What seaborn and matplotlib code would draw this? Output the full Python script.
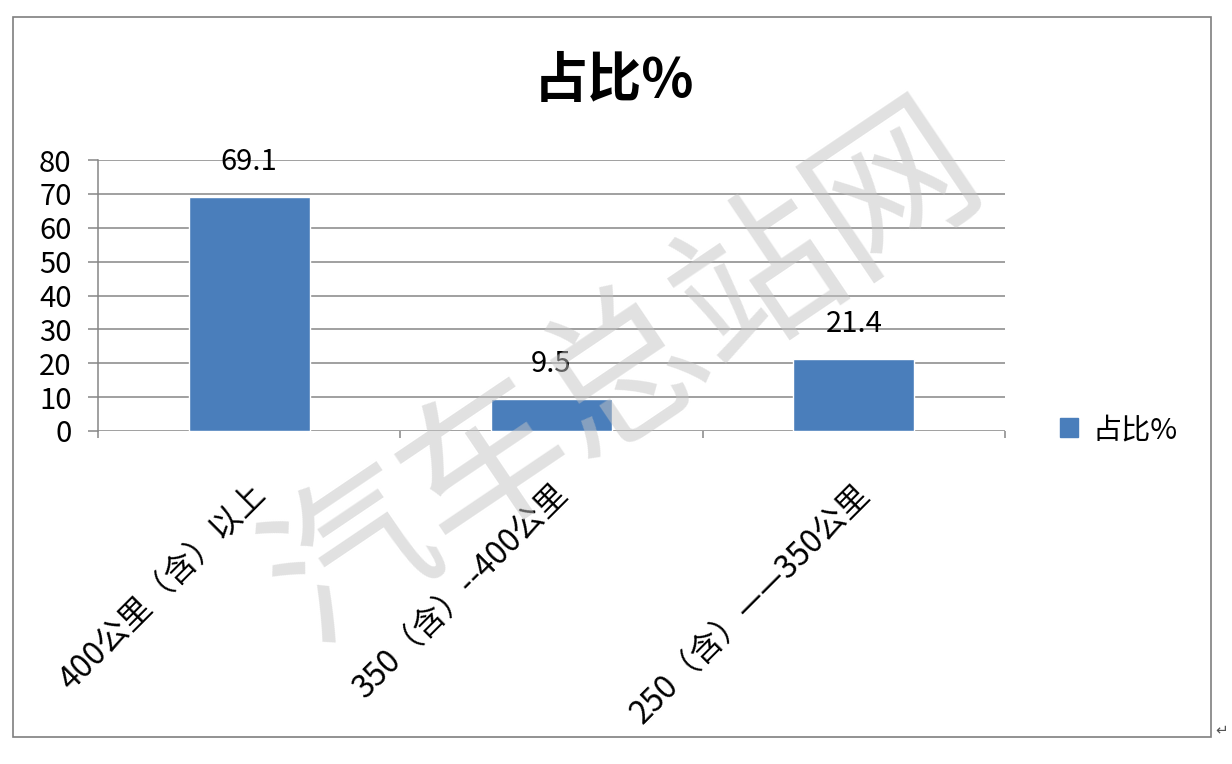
import matplotlib
matplotlib.use("Agg")
import matplotlib.pyplot as plt
import seaborn as sns
import pandas as pd
from matplotlib.patches import Rectangle, Patch

categories = ["400公里（含）以上", "350（含）--400公里", "250（含）——350公里"]
values = [69.1, 9.5, 21.4]
series_name = "占比%"
title = "占比%"
yticks = [0, 10, 20, 30, 40, 50, 60, 70, 80]
watermark = "汽车总站网"

sns.set_theme(style="white")
plt.rcParams['font.family'] = ['Noto Sans CJK SC', 'DejaVu Sans']
plt.rcParams['text.color'] = 'black'
plt.rcParams['xtick.color'] = 'black'
plt.rcParams['ytick.color'] = 'black'

bar_color = "#4a7ebb"
grid_color = "#868686"

fig = plt.figure(figsize=(12.32, 7.64), dpi=100)
fig.patch.set_facecolor("white")
ax = fig.add_axes([98/1232, 1-431/764, (1005-98)/1232, (431-160)/764])

df = pd.DataFrame({"cat": categories, "val": values})
sns.barplot(data=df, x="cat", y="val", color=bar_color, width=0.4, saturation=1,
            ax=ax, zorder=3)

ax.set_ylim(0, 80)
ax.set_xlim(-0.5, 2.5)
ax.set_yticks(yticks)
ax.set_yticklabels([str(t) for t in yticks], fontsize=21, color="black")
for t in yticks:
    ax.axhline(t, color=grid_color, lw=1.1, zorder=1)
ax.set_xlabel("")
ax.set_ylabel("")
for s in ["top", "right", "bottom"]:
    ax.spines[s].set_visible(False)
ax.spines["left"].set_color(grid_color)
ax.spines["left"].set_linewidth(1.1)
ax.tick_params(axis="y", which="both", left=True, length=7, width=1.1,
               color=grid_color, pad=12, labelcolor="black")

# x ticks at category boundaries
ax.set_xticks([-0.5, 0.5, 1.5, 2.5], minor=True)
ax.tick_params(axis="x", which="minor", bottom=True, length=5, width=1.1,
               color=grid_color, direction="out")
ax.set_xticks([0, 1, 2])
ax.set_xticklabels(categories, rotation=45, ha="right", va="top",
                   rotation_mode="anchor", fontsize=23, color="black")
ax.tick_params(axis="x", which="major", bottom=False, pad=28)

# data labels
for i, v in enumerate(values):
    ax.annotate(f"{v}", (i, v), xytext=(0, 25), textcoords="offset points",
                ha="center", va="center", fontsize=21, color="black", zorder=5)

fig.text(614/1232, 1-82/764, title, ha="center", va="center",
         fontsize=39, fontweight="bold", color="black")

# legend
fig.legend(handles=[Patch(facecolor=bar_color, edgecolor=bar_color, label=series_name)],
           loc="center left", bbox_to_anchor=(1060/1232, 1-430/764),
           frameon=False, fontsize=21, handlelength=0.6, handleheight=0.6,
           handletextpad=0.5, borderpad=0, borderaxespad=0)

# outer border
fig.add_artist(Rectangle((13/1232, 1-737/764), (1211-13)/1232, (737-17)/764,
                         transform=fig.transFigure, fill=False,
                         edgecolor="#7f7f7f", lw=1.2))
fig.text(1222/1232, 1-730/764, "↵", ha="center", va="center", fontsize=11,
         color="#555555", family=["DejaVu Sans"])

# watermark
fig.text(625/1232, 1-375/764, watermark, ha="center", va="center",
         fontsize=118, rotation=34, color="#c4c4c4", alpha=0.5,
         fontweight="light", zorder=10)

fig.savefig("out.png", dpi=100, facecolor="white")
